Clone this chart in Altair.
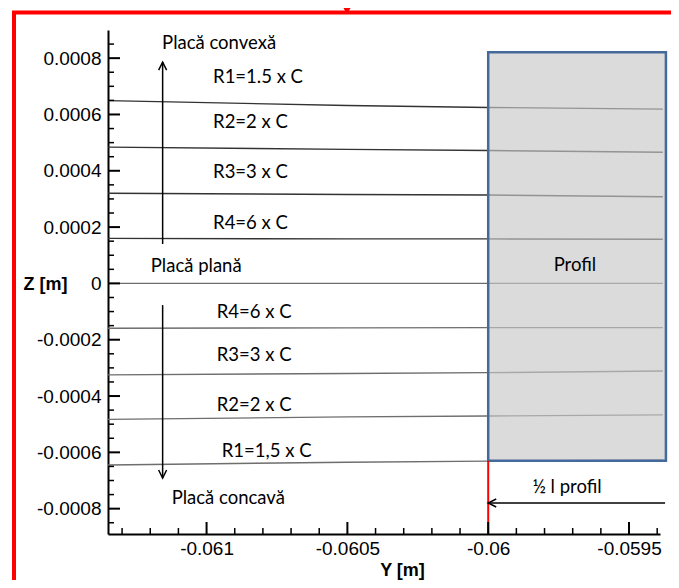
import altair as alt
import pandas as pd

# ---------------- data ----------------
x_domain = [-0.06135, -0.05939]
z_domain = [-0.00089, 0.0009]

x_major = [-0.061, -0.0605, -0.06, -0.0595]
x_minor = [-0.0613, -0.0612, -0.0611, -0.0609, -0.0608, -0.0607, -0.0606,
           -0.0604, -0.0603, -0.0602, -0.0601, -0.0599, -0.0598, -0.0597,
           -0.0596, -0.0594]
z_major = [-0.0008, -0.0006, -0.0004, -0.0002, 0, 0.0002, 0.0004, 0.0006, 0.0008]
z_minor = [-0.00085, -0.00075, -0.0007, -0.00065, -0.00055, -0.0005, -0.00045,
           -0.00035, -0.0003, -0.00025, -0.00015, -0.0001, -0.00005,
           0.00005, 0.0001, 0.00015, 0.00025, 0.0003, 0.00035,
           0.00045, 0.0005, 0.00055, 0.00065, 0.0007, 0.00075, 0.00085]

line_x = [-0.06135, -0.0605, -0.06, -0.05938]
convex_r1 = [0.000649, 0.000632, 0.000625, 0.000619]
convex_r2 = [0.000484, 0.000476, 0.000472, 0.000466]
convex_r3 = [0.000320, 0.000316, 0.000314, 0.000308]
convex_r4 = [0.000160, 0.000158, 0.000158, 0.000157]
flat = [0.0, 0.0, 0.0, 0.0]
concave_r4 = [-0.000159, -0.000158, -0.000157, -0.000157]
concave_r3 = [-0.000325, -0.000320, -0.000317, -0.000311]
concave_r2 = [-0.000483, -0.000474, -0.000471, -0.000467]
concave_r1 = [-0.000645, -0.000635, -0.000631, -0.000627]

line_names = ["convex_r1", "convex_r2", "convex_r3", "convex_r4", "flat",
              "concave_r4", "concave_r3", "concave_r2", "concave_r1"]
line_values = [convex_r1, convex_r2, convex_r3, convex_r4, flat,
               concave_r4, concave_r3, concave_r2, concave_r1]
line_shades = ["#333333", "#333333", "#333333", "#333333", "#6e6e6e",
               "#6e6e6e", "#6e6e6e", "#6e6e6e", "#6e6e6e"]

profile_x = [-0.06, -0.059369]
profile_z = [-0.00063, 0.000821]

label_texts = ["Placă convexă", "R1=1.5 x C", "R2=2 x C", "R3=3 x C", "R4=6 x C",
               "Placă plană", "R4=6 x C", "R3=3 x C", "R2=2 x C", "R1=1,5 x C",
               "Placă concavă"]
label_x = [-0.061158, -0.060977, -0.060977, -0.060977, -0.060977,
           -0.061198, -0.060964, -0.060964, -0.060964, -0.060946, -0.061124]
label_z = [0.000854, 0.000733, 0.000573, 0.000396, 0.000215,
           0.0000618, -0.0001005, -0.000254, -0.000432, -0.000595, -0.000762]

center_texts = ["Profil", "½ l profil"]
center_x = [-0.059692, -0.05972]
center_z = [0.0000654, -0.000723]

arrow_x = [-0.061156, -0.061156, -0.059372]
arrow_x2 = [-0.061156, -0.061156, -0.06]
arrow_z = [0.00014, -0.000077, -0.00078]
arrow_z2 = [0.000786, -0.000691, -0.00078]
arrow_heads = ["M-0.5,1L0,0L0.5,1", "M-0.5,-1L0,0L0.5,-1", "M1,-0.5L0,0L1,0.5"]

# ---------------- tables ----------------
rows = []
for name, vals, shade in zip(line_names, line_values, line_shades):
    for xv, zv in zip(line_x, vals):
        rows.append({"line": name, "x": xv, "z": zv, "shade": shade})
lines_df = pd.DataFrame(rows)

W, H = 552, 504
xs = alt.Scale(domain=x_domain, nice=False, zero=False)
zs = alt.Scale(domain=z_domain, nice=False, zero=False)

lines = alt.Chart(lines_df).mark_line(strokeWidth=1.4).encode(
    x=alt.X("x:Q", scale=xs,
            axis=alt.Axis(values=x_major, ticks=False, grid=False, labelExpr="'' + datum.value",
                          labelFont="Liberation Sans", labelFontSize=19, labelColor="black",
                          labelPadding=5, domainColor="black", domainWidth=2,
                          title="Y [m]", titleFont="Liberation Sans", titleFontSize=18,
                          titleFontWeight="bold", titleColor="black",
                          titleX=294, titleY=36, titleBaseline="middle", titleAlign="center")),
    y=alt.Y("z:Q", scale=zs,
            axis=alt.Axis(values=z_major, ticks=False, grid=False, labelExpr="'' + datum.value",
                          labelFont="Liberation Sans", labelFontSize=19, labelColor="black",
                          labelPadding=7, domainColor="black", domainWidth=2,
                          title="Z [m]", titleFont="Liberation Sans", titleFontSize=18,
                          titleFontWeight="bold", titleColor="black", titleAngle=0,
                          titleX=-63, titleY=254, titleBaseline="middle", titleAlign="center")),
    detail="line:N",
    color=alt.Color("shade:N", scale=None),
)

box_df = pd.DataFrame({"x": [profile_x[0]], "x2": [profile_x[1]],
                       "z": [profile_z[0]], "z2": [profile_z[1]]})
box = alt.Chart(box_df).mark_rect(fill="#c8c8c8", fillOpacity=0.65, stroke="#44699b",
                                  strokeWidth=2.5, strokeOpacity=1).encode(
    x=alt.X("x:Q", scale=xs), x2="x2:Q", y=alt.Y("z:Q", scale=zs), y2="z2:Q")

red_df = pd.DataFrame({"x": [profile_x[0]], "z": [profile_z[0]], "z2": [z_domain[0]]})
red = alt.Chart(red_df).mark_rule(color="#ff0000", strokeWidth=2).encode(
    x=alt.X("x:Q", scale=xs), y=alt.Y("z:Q", scale=zs), y2="z2:Q")

arr_df = pd.DataFrame({"x": arrow_x, "x2": arrow_x2, "z": arrow_z, "z2": arrow_z2,
                       "head": arrow_heads})
arrows = alt.Chart(arr_df).mark_rule(color="black", strokeWidth=1.5).encode(
    x=alt.X("x:Q", scale=xs), x2="x2:Q", y=alt.Y("z:Q", scale=zs), y2="z2:Q")
heads = alt.layer(*[
    alt.Chart(arr_df.iloc[[i]]).mark_point(shape=arrow_heads[i], filled=False, size=256,
                                           color="black", strokeWidth=1.5, opacity=1).encode(
        x=alt.X("x2:Q", scale=xs), y=alt.Y("z2:Q", scale=zs))
    for i in range(3)
])

lab_df = pd.DataFrame({"t": label_texts, "x": label_x, "z": label_z})
labels = alt.Chart(lab_df).mark_text(align="left", baseline="middle", font="Lato",
                                     fontSize=18.5, color="black").encode(
    x=alt.X("x:Q", scale=xs), y=alt.Y("z:Q", scale=zs), text="t:N")
cen_df = pd.DataFrame({"t": center_texts, "x": center_x, "z": center_z})
clabels = alt.Chart(cen_df).mark_text(align="center", baseline="middle", font="Lato",
                                      fontSize=18.5, color="black").encode(
    x=alt.X("x:Q", scale=xs), y=alt.Y("z:Q", scale=zs), text="t:N")

# inward ticks
xmaj = alt.Chart(pd.DataFrame({"v": x_major})).mark_rule(color="black", strokeWidth=2).encode(
    x=alt.X("v:Q", scale=xs), y=alt.value(H), y2=alt.value(H - 12))
xmin = alt.Chart(pd.DataFrame({"v": x_minor})).mark_rule(color="black", strokeWidth=1.5).encode(
    x=alt.X("v:Q", scale=xs), y=alt.value(H), y2=alt.value(H - 6))
zmaj = alt.Chart(pd.DataFrame({"v": z_major})).mark_rule(color="black", strokeWidth=2).encode(
    y=alt.Y("v:Q", scale=zs), x=alt.value(0), x2=alt.value(12))
zmin = alt.Chart(pd.DataFrame({"v": z_minor})).mark_rule(color="black", strokeWidth=1.5).encode(
    y=alt.Y("v:Q", scale=zs), x=alt.value(0), x2=alt.value(6))

# red frame around figure
frame_left = alt.Chart(pd.DataFrame({"a": [0]})).mark_rule(color="#ff0000", strokeWidth=4).encode(
    x=alt.value(-94), y=alt.value(-17.5), y2=alt.value(560))
frame_top = alt.Chart(pd.DataFrame({"a": [0]})).mark_rule(color="#ff0000", strokeWidth=4).encode(
    x=alt.value(-96), x2=alt.value(580), y=alt.value(-17.5))
tri = alt.Chart(pd.DataFrame({"a": [0]})).mark_point(shape="triangle-down", filled=True,
                                                      size=360, color="#ff0000", opacity=1).encode(
    x=alt.value(239), y=alt.value(-24))

chart = alt.layer(lines, box, red, arrows, heads, labels, clabels,
                  xmaj, xmin, zmaj, zmin, frame_left, frame_top, tri).properties(
    width=W, height=H,
    padding={"left": 100, "top": 22, "right": 11, "bottom": 46},
    autosize=alt.AutoSizeParams(type="none"),
    background="white",
).configure_view(stroke=None)

chart.save("out.html", embed_options={"renderer": "svg", "actions": False})
